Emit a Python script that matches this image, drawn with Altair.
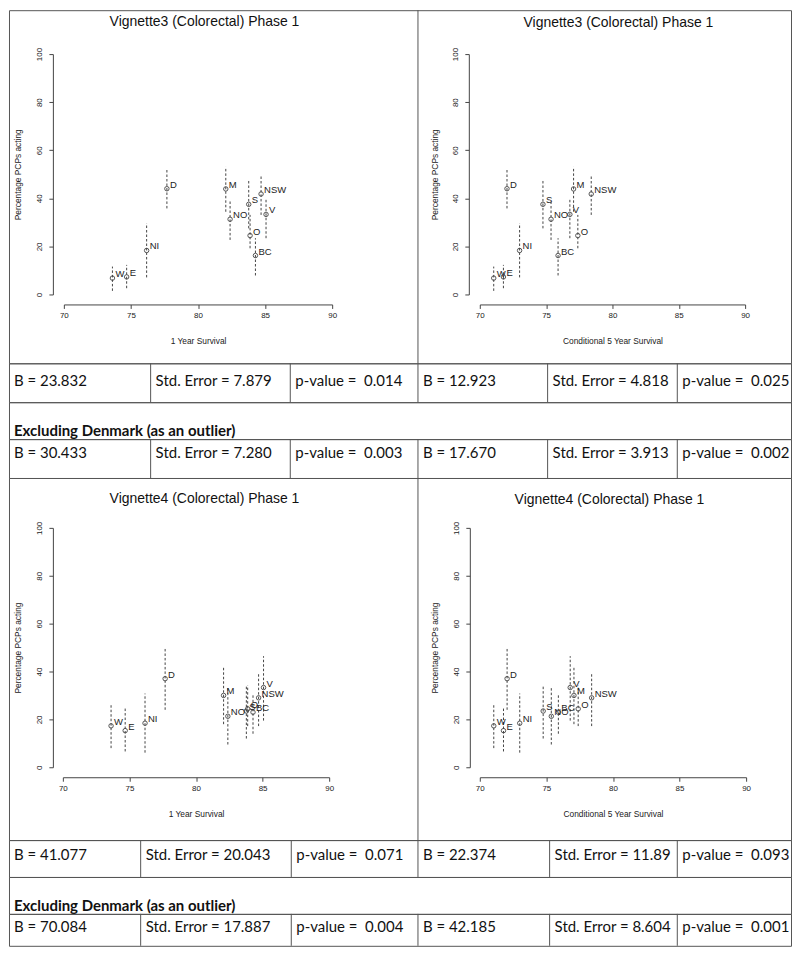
import altair as alt
import pandas as pd

# ---------------- data ----------------
countries = ["W", "E", "NI", "D", "M", "NO", "S", "O", "BC", "NSW", "V"]
survival_1yr = [73.62, 74.68, 76.17, 77.68, 82.07, 82.39, 83.78, 83.88, 84.28, 84.70, 85.07]
survival_cond5 = [71.05, 71.78, 73.00, 72.05, 77.07, 75.37, 74.76, 77.39, 75.90, 78.40, 76.79]

v3_pct = [6.8, 7.3, 18.3, 44.0, 43.9, 31.3, 37.5, 24.5, 16.2, 41.8, 33.3]
v3_lo = [1.5, 2.6, 7.1, 35.8, 34.4, 22.7, 27.5, 19.2, 7.9, 33.1, 23.4]
v3_hi = [11.6, 12.3, 29.6, 52.4, 53.1, 39.3, 47.3, 33.1, 23.4, 49.9, 40.0]

v4_pct = [17.3, 15.3, 18.4, 37.0, 30.0, 21.3, 23.5, 24.4, 23.0, 29.0, 33.3]
v4_lo = [8.0, 6.6, 6.1, 24.0, 18.0, 9.5, 12.0, 17.2, 14.0, 17.2, 19.5]
v4_hi = [26.3, 24.6, 30.8, 49.6, 41.8, 33.5, 33.8, 34.2, 30.8, 39.5, 46.4]

panel_titles = ["Vignette3 (Colorectal) Phase 1", "Vignette4 (Colorectal) Phase 1"]
x_titles = ["1 Year Survival", "Conditional 5 Year Survival"]
y_title = "Percentage PCPs acting"
x_ticks = [70, 75, 80, 85, 90]
y_ticks = [0, 20, 40, 60, 80, 100]

NB = "\u00a0"
stats_v3_all = ["B = 23.832", "Std. Error = 7.879", "p-value = " + NB + "0.014",
                "B = 12.923", "Std. Error = 4.818", "p-value = " + NB + "0.025"]
stats_v3_excl = ["B = 30.433", "Std. Error = 7.280", "p-value = " + NB + "0.003",
                 "B = 17.670", "Std. Error = 3.913", "p-value = " + NB + "0.002"]
stats_v4_all = ["B = 41.077", "Std. Error = 20.043", "p-value = " + NB + "0.071",
                "B = 22.374", "Std. Error = 11.89", "p-value = " + NB + "0.093"]
stats_v4_excl = ["B = 70.084", "Std. Error = 17.887", "p-value = " + NB + "0.004",
                 "B = 42.185", "Std. Error = 8.604", "p-value = " + NB + "0.001"]
excl_label = "Excluding Denmark (as an outlier)"

df = pd.DataFrame({
    "country": countries,
    "s1": survival_1yr, "s5": survival_cond5,
    "v3": v3_pct, "v3lo": v3_lo, "v3hi": v3_hi,
    "v4": v4_pct, "v4lo": v4_lo, "v4hi": v4_hi,
})

# ---------------- layout / style constants ----------------
RF = "Liberation Sans, Arial, Helvetica, sans-serif"
TF = "Lato, Open Sans, sans-serif"
AX = "#444444"
TXT = "#222222"
BORDER = "#555555"
W = 784
LEFT_W = 410
top_widths = [142, 140, 128, 130, 130, 114]
bot_widths = [132, 151, 127, 132, 128, 114]


def plot_layers(xfield, xtitle, yf, lof, hif, xr, yr, xoff, yoff, ytx):
    xs = alt.Scale(domain=[70, 90], range=xr, nice=False, zero=False)
    ys = alt.Scale(domain=[0, 100], range=yr, nice=False, zero=False)
    xax = alt.Axis(values=x_ticks, title=xtitle, orient="bottom", offset=xoff, grid=False,
                   tickSize=4, tickColor=AX, domainColor=AX, labelColor=TXT, labelFont=RF,
                   labelFontSize=8, labelPadding=3, labelFlush=False, labelOverlap=False,
                   titleFont=RF, titleFontSize=8.4, titleFontWeight="normal", titleColor=TXT,
                   titleY=36, titleBaseline="middle")
    yax = alt.Axis(values=y_ticks, title=y_title, orient="left", offset=yoff, grid=False,
                   tickSize=4, tickColor=AX, domainColor=AX, labelColor=TXT, labelFont=RF,
                   labelFontSize=8, labelAngle=270, labelAlign="center",
                   labelBaseline="alphabetic", labelPadding=7, labelFlush=False,
                   labelOverlap=False, titleFont=RF, titleFontSize=8.4,
                   titleFontWeight="normal", titleColor=TXT, titleX=ytx, titleAngle=270,
                   titleAlign="center", titleBaseline="middle")
    X = alt.X(f"{xfield}:Q", scale=xs, axis=xax)
    Y = alt.Y(f"{yf}:Q", scale=ys, axis=yax)
    base = alt.Chart(df)
    bars = base.mark_rule(strokeDash=[2.5, 2], color=AX, strokeWidth=1).encode(
        x=X, y=alt.Y(f"{lof}:Q", scale=ys, axis=yax), y2=f"{hif}:Q")
    pts = base.mark_point(shape="circle", filled=False, size=20, color=AX,
                          strokeWidth=0.9, opacity=1).encode(x=X, y=Y)
    lab = base.mark_text(align="left", baseline="middle", dx=3, dy=-4, font=RF,
                         fontSize=9.5, color=TXT).encode(x=X, y=Y, text="country:N")
    return alt.layer(bars, pts, lab)


def title_text(title, tx, ty):
    return alt.Chart(pd.DataFrame({"t": [title]})).mark_text(
        font=RF, fontSize=14, color="#111111", baseline="middle", align="center").encode(
        x=alt.value(tx), y=alt.value(ty), text="t:N")


def divider(xpos, h):
    return alt.Chart(pd.DataFrame({"x": [xpos]})).mark_rule(
        color=BORDER, strokeWidth=1).encode(
        x=alt.X("x:Q", scale=None, axis=None), y=alt.value(0), y2=alt.value(h))


def panel_row(yf, lof, hif, title, h, specs):
    (xr1, yr, xoff, yoff1, ytx1, t1), (xr2, yoff2, ytx2, t2) = specs
    left = plot_layers("s1", x_titles[0], yf, lof, hif, xr1, yr, xoff, yoff1, ytx1)
    right = plot_layers("s5", x_titles[1], yf, lof, hif, xr2, yr, xoff, yoff2, ytx2)
    return alt.layer(
        left, right,
        title_text(title, t1[0], t1[1]), title_text(title, t2[0], t2[1]),
        divider(LEFT_W, h),
    ).resolve_scale(x="independent", y="independent").resolve_axis(
        x="independent", y="independent").properties(width=W, height=h)


def stat_row(texts, widths, h, ty):
    lefts = [sum(widths[:i]) for i in range(len(widths))]
    tdf = pd.DataFrame({"t": texts, "x": [l + 5 for l in lefts]})
    txt = alt.Chart(tdf).mark_text(
        align="left", baseline="middle", font=TF, fontSize=15, color="#111111").encode(
        x=alt.X("x:Q", scale=None, axis=None), y=alt.value(ty), text="t:N")
    ddf = pd.DataFrame({"x": lefts[1:]})
    rules = alt.Chart(ddf).mark_rule(color=BORDER, strokeWidth=1).encode(
        x=alt.X("x:Q", scale=None, axis=None), y=alt.value(0), y2=alt.value(h))
    return alt.layer(rules, txt).properties(width=W, height=h)


def excl_row(h, ty):
    return alt.Chart(pd.DataFrame({"t": [excl_label]})).mark_text(
        align="left", baseline="middle", font=TF, fontSize=15, fontWeight="bold",
        color="#111111").encode(x=alt.value(5), y=alt.value(ty), text="t:N").properties(
        width=W, height=h)


top_panels = panel_row(
    "v3", "v3lo", "v3hi", panel_titles[0], 354,
    (([55, 324], [285, 44], -59, -44, -35, (196, 12)),
     ([LEFT_W + 62, LEFT_W + 328], -(LEFT_W + 51), -34, (611, 13))))

bot_panels = panel_row(
    "v4", "v4lo", "v4hi", panel_titles[1], 363,
    (([54, 321], [290, 50], -63, -44, -35, (196, 21)),
     ([LEFT_W + 62, LEFT_W + 329], -(LEFT_W + 52), -35, (602, 22))))

chart = alt.vconcat(
    top_panels,
    stat_row(stats_v3_all, top_widths, 39, 18),
    excl_row(37, 29),
    stat_row(stats_v3_excl, top_widths, 39, 14),
    bot_panels,
    stat_row(stats_v4_all, bot_widths, 37, 15),
    excl_row(37, 29),
    stat_row(stats_v4_excl, bot_widths, 32, 13),
    spacing=0, bounds="flush",
).properties(padding=0, background="white").configure_view(
    stroke=BORDER, strokeWidth=1
)

chart.save("out.html", embed_options={"renderer": "svg", "actions": False})
